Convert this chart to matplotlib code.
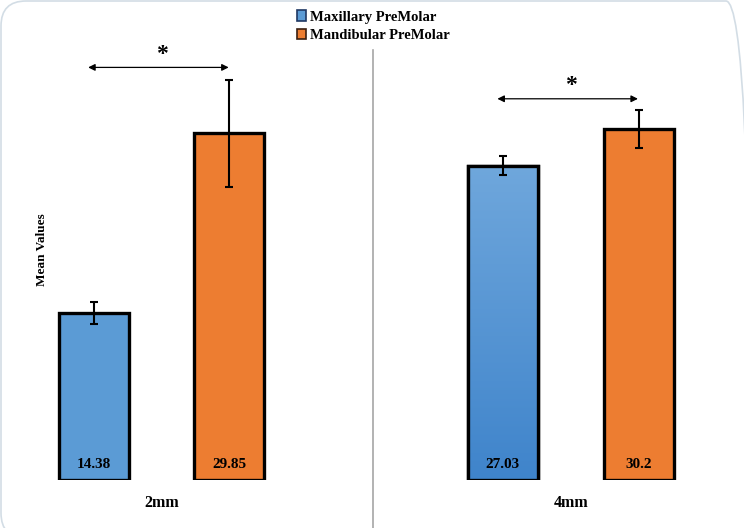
import matplotlib
matplotlib.use('Agg')
import matplotlib.pyplot as plt
import numpy as np
from matplotlib.patches import Patch, FancyBboxPatch

plt.rcParams['font.family'] = ['Liberation Serif', 'DejaVu Serif']
plt.rcParams['font.weight'] = 'bold'

# data
groups = ['2mm', '4mm']
series = ['Maxillary PreMolar', 'Mandibular PreMolar']
maxillary = [14.38, 27.03]
mandibular = [29.85, 30.2]
maxillary_err = [0.95, 0.82]
mandibular_err = [4.6, 1.6]
value_labels = [['14.38', '27.03'], ['29.85', '30.2']]

blue = '#5b9bd5'
orange = '#ed7d31'

fig = plt.figure(figsize=(7.44, 5.28), dpi=100)
ax = fig.add_axes([0, 48 / 528, 1, 480 / 528])
ax.axis('off')

# rounded frame round the whole chart
frame = FancyBboxPatch((0.01, -0.1), 7.5, 5.37, boxstyle='round,pad=0,rounding_size=0.25',
                       transform=fig.dpi_scale_trans, facecolor='none', edgecolor='#d3dde5', lw=1.2)
fig.patches.append(frame)

x = np.arange(len(groups))
off = 0.166
w = 0.171

b1 = ax.bar(x - off, maxillary, w, color=blue, edgecolor='black', lw=2.4, zorder=2)
b2 = ax.bar(x + off, mandibular, w, color=orange, edgecolor='black', lw=2.4, zorder=2)

# gradient on the second blue bar
bar = b1[1]
grad = np.linspace(0, 1, 256).reshape(-1, 1)
cmap = matplotlib.colors.LinearSegmentedColormap.from_list('g', ['#3f84cb', '#6fa7dc'])
im = ax.imshow(grad, cmap=cmap, aspect='auto', origin='lower', zorder=2.1,
               extent=[bar.get_x(), bar.get_x() + bar.get_width(), 0, bar.get_height()])
im.set_clip_path(bar)
ax.bar(x[1] - off, maxillary[1], w, color='none', edgecolor='black', lw=2.4, zorder=2.2)
ax.set_xlim(-0.3946, 1.4234)
ax.set_ylim(0, 41.3)

ax.errorbar(x - off, maxillary, yerr=maxillary_err, fmt='none', ecolor='black', elinewidth=1.5,
            capsize=3, capthick=1.5, zorder=3)
ax.errorbar(x + off, mandibular, yerr=mandibular_err, fmt='none', ecolor='black', elinewidth=1.5,
            capsize=3, capthick=1.5, zorder=3)

for i in range(len(groups)):
    ax.text(x[i] - off, 1.3, value_labels[0][i], ha='center', va='center', fontsize=11, zorder=4)
    ax.text(x[i] + off, 1.3, value_labels[1][i], ha='center', va='center', fontsize=11, zorder=4)
    ax.text(x[i], -2.0, groups[i], ha='center', va='center', fontsize=11.5, clip_on=False)

# significance arrows
sig_y = [35.5, 32.8]
for i in range(len(groups)):
    ax.annotate('', xy=(x[i] - off - 0.02, sig_y[i]), xytext=(x[i] + off + 0.005, sig_y[i]),
                arrowprops=dict(arrowstyle='<|-|>', color='black', lw=0.9, mutation_scale=10))
    ax.text(x[i], sig_y[i] + 0.2, '*', ha='center', va='bottom', fontsize=17)

# separator between the two groups
ax.plot([0.517, 0.517], [37.0, -4.2], color='#a6a6a6', lw=1.2, clip_on=False)

ax.text(-0.292, 19.8, 'Mean Values', rotation=90, ha='center', va='center', fontsize=9.5)

handles = [Patch(facecolor=blue, edgecolor='#1f3864', lw=1.2),
           Patch(facecolor=orange, edgecolor='#3b1f10', lw=1.2)]
fig.legend(handles, series, loc='upper center', bbox_to_anchor=(0.502, 1.005), frameon=False,
           handlelength=0.6, handleheight=0.7, handletextpad=0.3, labelspacing=0.35, fontsize=10.5)

fig.savefig('out.png', dpi=100)
